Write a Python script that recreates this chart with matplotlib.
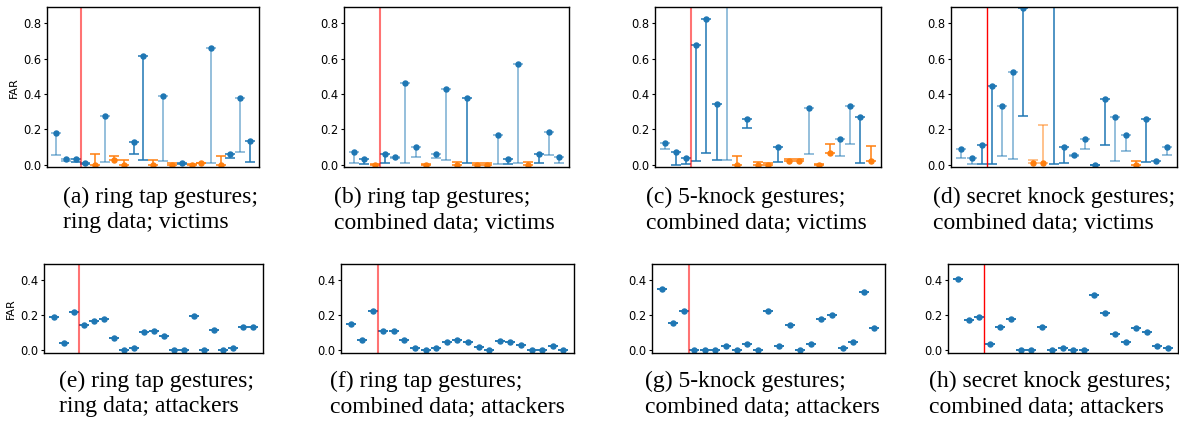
import numpy as np
import matplotlib
matplotlib.use("Agg")
from matplotlib import pyplot as plt

"""
FAR per user for the four gesture sets, victims (top) and attackers (bottom).
"""

W, H = 1179, 421
blue = "#1f77b4"
orange = "#ff7f0e"

# Victims: FAR and the other end of its bar (below = blue, above = orange).
far_a = [0.177, 0.034, 0.030, 0.011, 0.0, 0.277, 0.025, 0.0, 0.128, 0.613, 0.0,
         0.390, 0.0, 0.009, 0.0, 0.007, 0.658, 0.0, 0.062, 0.377, 0.136]
end_a = [0.053, 0.021, 0.013, 0.005, 0.062, 0.017, 0.051, 0.025, 0.060, 0.028, 0.025,
         0.023, 0.011, 0.005, 0.005, 0.011, 0.011, 0.047, 0.036, 0.070, 0.013]
far_b = [0.072, 0.032, 0.0, 0.062, 0.045, 0.462, 0.102, 0.0, 0.062, 0.428, 0.0,
         0.379, 0.0, 0.0, 0.168, 0.030, 0.568, 0.0, 0.062, 0.185, 0.042]
end_b = [0.011, 0.004, 0.005, 0.008, 0.036, 0.011, 0.043, 0.005, 0.040, 0.028, 0.017,
         0.009, 0.007, 0.007, 0.002, 0.004, 0.011, 0.017, 0.009, 0.053, 0.008]
far_c = [0.121, 0.070, 0.038, 0.679, 0.825, 0.345, 1.0, 0.0, 0.257, 0.0, 0.0,
         0.100, 0.023, 0.023, 0.323, 0.0, 0.068, 0.147, 0.334, 0.268, 0.023]
end_c = [0.091, 0.0, 0.004, 0.023, 0.064, 0.028, 0.028, 0.049, 0.206, 0.015, 0.008,
         0.015, 0.030, 0.032, 0.060, 0.005, 0.115, 0.051, 0.119, 0.009, 0.104]
far_d = [0.087, 0.038, 0.113, 0.445, 0.334, 0.525, 0.888, 0.011, 0.011, 1.0, 0.102,
         0.057, 0.147, 0.0, 0.370, 0.268, 0.168, 0.0, 0.258, 0.023, 0.102]
end_d = [0.036, 0.002, 0.002, 0.004, 0.051, 0.030, 0.275, 0.028, 0.223, 0.002, 0.009,
         0.049, 0.087, 0.0, 0.111, 0.023, 0.079, 0.019, 0.013, 0.019, 0.053]

# bars drawn in the paler shade
faded_a = [0, 1, 5, 11, 16, 19]
faded_b = [0, 4, 5, 6, 8, 9, 14, 16, 19, 20]
faded_c = [0, 6, 14, 17, 18]
faded_d = [0, 1, 4, 5, 7, 8, 11, 12, 15, 16, 19, 20]

# Attackers: FAR per user.
far_e = [0.187, 0.040, 0.217, 0.145, 0.166, 0.175, 0.067, 0.0, 0.010, 0.103, 0.110,
         0.078, 0.0, 0.0, 0.194, 0.0, 0.116, 0.0, 0.011, 0.133, 0.133]
far_f = [0.150, 0.055, 0.221, 0.110, 0.110, 0.055, 0.011, 0.0, 0.011, 0.044, 0.055,
         0.044, 0.017, 0.0, 0.050, 0.044, 0.027, 0.0, 0.0, 0.023, 0.0]
far_g = [0.352, 0.154, 0.223, 0.0, 0.0, 0.0, 0.023, 0.0, 0.034, 0.0, 0.223,
         0.023, 0.145, 0.0, 0.034, 0.177, 0.200, 0.011, 0.046, 0.333, 0.122]
far_h = [0.406, 0.170, 0.187, 0.034, 0.133, 0.177, 0.0, 0.0, 0.133, 0.0, 0.011,
         0.0, 0.0, 0.314, 0.213, 0.088, 0.046, 0.122, 0.101, 0.023, 0.011]

captions = {
    "a": ("(a) ring tap gestures;", "ring data; victims"),
    "b": ("(b) ring tap gestures;", "combined data; victims"),
    "c": ("(c) 5-knock gestures;", "combined data; victims"),
    "d": ("(d) secret knock gestures;", "combined data; victims"),
    "e": ("(e) ring tap gestures;", "ring data; attackers"),
    "f": ("(f) ring tap gestures;", "combined data; attackers"),
    "g": ("(g) 5-knock gestures;", "combined data; attackers"),
    "h": ("(h) secret knock gestures;", "combined data; attackers"),
}

split = 2.5  # enrolled users / others

fig = plt.figure(figsize=(W / 100, H / 100), dpi=100)


def box(x0, x1, y0, y1):
    return fig.add_axes([x0 / W, 1 - y1 / H, (x1 - x0) / W, (y1 - y0) / H])


def style(ax, ylim, ticks, far_label, strong_red):
    ax.set_xlim(-1, 21)
    ax.set_ylim(*ylim)
    ax.set_xticks([])
    ax.set_yticks(ticks)
    ax.tick_params(axis="y", labelsize=8.3, length=2.5, width=0.8, pad=1.5)
    for s in ax.spines.values():
        s.set_linewidth(1.0)
    if far_label:
        ax.set_ylabel("FAR", fontsize=8, labelpad=3)
    if strong_red:
        ax.axvline(split, color="red", lw=1.0)
    else:
        ax.axvline(split, color="red", alpha=0.55, lw=1.5)


def victims(ax, far, end, faded):
    for i in range(len(far)):
        up = end[i] > far[i]
        c = orange if up else blue
        err = [[0.0], [end[i] - far[i]]] if up else [[far[i] - end[i]], [0.0]]
        _, caps, bars = ax.errorbar([i], [far[i]], yerr=err, fmt="o", color=c,
                                    ms=3.6, capsize=3.6, elinewidth=1.1,
                                    capthick=1.1)
        if i in faded:
            for cl in caps:
                cl.set_alpha(0.6)
            for bl in bars:
                bl.set_alpha(0.6)


def attackers(ax, far):
    x = np.arange(len(far))
    ax.errorbar(x, far, yerr=np.zeros(len(far)), fmt="o", color=blue,
                ms=3.6, capsize=3.6, capthick=1.1)


def caption(key, x, y):
    l1, l2 = captions[key]
    fig.text(x / W, 1 - y / H, l1, family="Liberation Serif", fontsize=17,
             va="baseline", ha="left")
    fig.text(x / W, 1 - (y + 25) / H, l2, family="Liberation Serif", fontsize=17,
             va="baseline", ha="left")


top_y = (7.3, 167.3)
top_x = [(46.7, 259.3), (344, 569.3), (655, 881), (951, 1177)]
top_data = [(far_a, end_a, faded_a), (far_b, end_b, faded_b),
            (far_c, end_c, faded_c), (far_d, end_d, faded_d)]
for k, ((x0, x1), (far, end, faded)) in enumerate(zip(top_x, top_data)):
    ax = box(x0, x1, *top_y)
    victims(ax, far, end, faded)
    style(ax, (-0.015, 0.89), [0, 0.2, 0.4, 0.6, 0.8], k == 0, k == 3)

bot_y = (264, 352.7)
bot_x = [(44.3, 263.3), (340.7, 574), (651.7, 885), (947.7, 1178)]
bot_data = [far_e, far_f, far_g, far_h]
for k, ((x0, x1), far) in enumerate(zip(bot_x, bot_data)):
    ax = box(x0, x1, *bot_y)
    attackers(ax, far)
    style(ax, (-0.018, 0.495), [0, 0.2, 0.4], k == 0, k == 3)

caption("a", 63, 203)
caption("b", 334, 203)
caption("c", 646, 203)
caption("d", 933, 203)
caption("e", 59, 387)
caption("f", 330, 387)
caption("g", 645, 387)
caption("h", 929, 387)

plt.savefig("out.png", dpi=100)
